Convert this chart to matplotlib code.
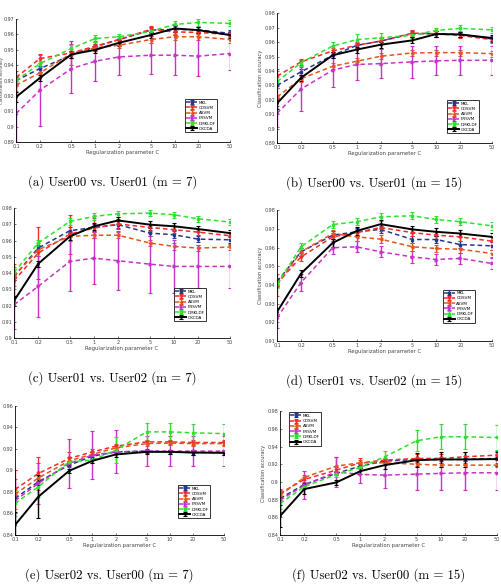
import numpy as np
import matplotlib
matplotlib.use("Agg")
import matplotlib.pyplot as plt
from matplotlib.ticker import FixedLocator, FuncFormatter

# regularization parameter C (x axis, log scale)
C_values = [0.1, 0.2, 0.5, 1, 2, 5, 10, 20, 50]
C_labels = ["0.1", "0.2", "0.5", "1", "2", "5", "10", "20", "50"]
methods = ["MKL", "CDSVM", "ASVM", "FRSVM", "DMKLDF", "OKCDA"]

# (a) User00 vs. User01 (m = 7)
a_mkl = [0.930, 0.9378, 0.9465, 0.952, 0.9567, 0.9628, 0.9633, 0.963, 0.9607]
a_cdsvm = [0.932, 0.9443, 0.948, 0.9524, 0.9567, 0.9633, 0.9617, 0.9613, 0.960]
a_asvm = [0.927, 0.935, 0.9476, 0.9513, 0.953, 0.9567, 0.9585, 0.9585, 0.9567]
a_frsvm = [0.9085, 0.9237, 0.9378, 0.9426, 0.9454, 0.9465, 0.9465, 0.9459, 0.9476]
a_dmkldf = [0.930, 0.941, 0.9509, 0.9574, 0.9585, 0.962, 0.9665, 0.9678, 0.9672]
a_okcda = [0.9193, 0.9317, 0.947, 0.950, 0.9546, 0.9596, 0.9639, 0.9628, 0.9596]
a_mkl_err = [0.002, 0.002, 0.002, 0.002, 0.002, 0.002, 0.002, 0.002, 0.002]
a_cdsvm_err = [0.004, 0.003, 0.008, 0.003, 0.002, 0.002, 0.002, 0.002, 0.002]
a_asvm_err = [0.004, 0.003, 0.003, 0.002, 0.002, 0.002, 0.002, 0.002, 0.002]
a_frsvm_err = [0.019, 0.023, 0.016, 0.013, 0.012, 0.0125, 0.013, 0.013, 0.0105]
a_dmkldf_err = [0.003, 0.002, 0.002, 0.002, 0.002, 0.002, 0.002, 0.002, 0.002]
a_okcda_err = [0.003, 0.002, 0.002, 0.002, 0.002, 0.002, 0.002, 0.002, 0.002]

# (b) User00 vs. User01 (m = 15)
b_mkl = [0.930, 0.9394, 0.9509, 0.9577, 0.9607, 0.9658, 0.9658, 0.9653, 0.9622]
b_cdsvm = [0.9364, 0.9463, 0.9539, 0.9578, 0.9607, 0.9662, 0.9658, 0.9646, 0.9617]
b_asvm = [0.922, 0.9347, 0.9433, 0.9467, 0.9502, 0.9525, 0.9527, 0.9527, 0.952]
b_frsvm = [0.9107, 0.9275, 0.9406, 0.9445, 0.9451, 0.9463, 0.947, 0.9474, 0.9474]
b_dmkldf = [0.9325, 0.9458, 0.9573, 0.9617, 0.963, 0.9647, 0.9681, 0.9695, 0.9685]
b_okcda = [0.9176, 0.9353, 0.9509, 0.9548, 0.9582, 0.9612, 0.9656, 0.9653, 0.9628]
b_mkl_err = [0.002, 0.002, 0.002, 0.002, 0.002, 0.002, 0.002, 0.002, 0.002]
b_cdsvm_err = [0.005, 0.002, 0.002, 0.002, 0.002, 0.002, 0.002, 0.002, 0.002]
b_asvm_err = [0.006, 0.002, 0.002, 0.002, 0.002, 0.002, 0.002, 0.002, 0.002]
b_frsvm_err = [0.0097, 0.015, 0.012, 0.011, 0.010, 0.011, 0.010, 0.010, 0.010]
b_dmkldf_err = [0.003, 0.002, 0.003, 0.004, 0.003, 0.002, 0.002, 0.002, 0.002]
b_okcda_err = [0.004, 0.002, 0.002, 0.002, 0.002, 0.002, 0.002, 0.002, 0.002]

# (c) User01 vs. User02 (m = 7)
c_mkl = [0.938, 0.9554, 0.9661, 0.9681, 0.9698, 0.9646, 0.9636, 0.9609, 0.9605]
c_cdsvm = [0.9353, 0.9523, 0.964, 0.9677, 0.9702, 0.9681, 0.9667, 0.9652, 0.963]
c_asvm = [0.938, 0.9544, 0.9626, 0.9633, 0.9633, 0.9585, 0.9564, 0.9554, 0.956]
c_frsvm = [0.9205, 0.9318, 0.9472, 0.9492, 0.9476, 0.9455, 0.9441, 0.9441, 0.9441]
c_dmkldf = [0.9404, 0.9585, 0.9718, 0.9749, 0.9765, 0.9769, 0.9759, 0.9734, 0.9714]
c_okcda = [0.923, 0.9457, 0.9626, 0.9688, 0.9724, 0.9698, 0.9688, 0.9671, 0.9646]
c_mkl_err = [0.002, 0.002, 0.002, 0.002, 0.002, 0.002, 0.002, 0.002, 0.002]
c_cdsvm_err = [0.010, 0.016, 0.012, 0.006, 0.003, 0.002, 0.002, 0.002, 0.002]
c_asvm_err = [0.006, 0.004, 0.003, 0.002, 0.002, 0.002, 0.002, 0.002, 0.002]
c_frsvm_err = [0.015, 0.019, 0.018, 0.016, 0.018, 0.0175, 0.0165, 0.013, 0.013]
c_dmkldf_err = [0.002, 0.002, 0.002, 0.002, 0.002, 0.002, 0.002, 0.002, 0.002]
c_okcda_err = [0.003, 0.002, 0.002, 0.002, 0.002, 0.002, 0.002, 0.002, 0.002]

# (d) User01 vs. User02 (m = 15)
d_mkl = [0.9417, 0.9577, 0.9666, 0.9684, 0.9697, 0.9643, 0.9643, 0.9616, 0.9609]
d_cdsvm = [0.9408, 0.955, 0.9657, 0.968, 0.9707, 0.968, 0.9666, 0.9657, 0.9634]
d_asvm = [0.940, 0.9577, 0.9675, 0.9657, 0.9645, 0.9604, 0.9595, 0.9591, 0.9568]
d_frsvm = [0.9224, 0.9413, 0.9599, 0.9604, 0.9577, 0.955, 0.9536, 0.9542, 0.9515]
d_dmkldf = [0.9404, 0.9604, 0.9723, 0.9738, 0.9764, 0.977, 0.975, 0.9738, 0.9716]
d_okcda = [0.9256, 0.9461, 0.9625, 0.9689, 0.9725, 0.9697, 0.9684, 0.9675, 0.9657]
d_mkl_err = [0.002, 0.002, 0.002, 0.002, 0.002, 0.002, 0.002, 0.002, 0.002]
d_cdsvm_err = [0.002, 0.002, 0.002, 0.002, 0.002, 0.002, 0.002, 0.002, 0.002]
d_asvm_err = [0.006, 0.002, 0.002, 0.002, 0.002, 0.002, 0.002, 0.002, 0.002]
d_frsvm_err = [0.0053, 0.0045, 0.0035, 0.003, 0.003, 0.003, 0.003, 0.003, 0.003]
d_dmkldf_err = [0.002, 0.002, 0.002, 0.002, 0.002, 0.002, 0.002, 0.002, 0.002]
d_okcda_err = [0.002, 0.002, 0.002, 0.002, 0.002, 0.002, 0.002, 0.002, 0.002]

# (e) User02 vs. User00 (m = 7)
e_mkl = [0.874, 0.8895, 0.905, 0.9133, 0.9173, 0.918, 0.9173, 0.9167, 0.9167]
e_cdsvm = [0.8824, 0.8972, 0.9112, 0.9173, 0.9226, 0.9266, 0.9266, 0.926, 0.926]
e_asvm = [0.878, 0.893, 0.909, 0.915, 0.921, 0.925, 0.9255, 0.925, 0.925]
e_frsvm = [0.8719, 0.888, 0.9065, 0.9143, 0.9173, 0.918, 0.918, 0.918, 0.918]
e_dmkldf = [0.8694, 0.8849, 0.9081, 0.9096, 0.9189, 0.9359, 0.9359, 0.935, 0.9343]
e_okcda = [0.8493, 0.8756, 0.8997, 0.909, 0.9149, 0.9173, 0.9173, 0.9167, 0.9164]
e_mkl_err = [0.003, 0.003, 0.002, 0.002, 0.002, 0.002, 0.002, 0.002, 0.002]
e_cdsvm_err = [0.018, 0.015, 0.006, 0.003, 0.002, 0.002, 0.002, 0.002, 0.002]
e_asvm_err = [0.004, 0.003, 0.003, 0.002, 0.002, 0.002, 0.002, 0.002, 0.002]
e_frsvm_err = [0.020, 0.019, 0.023, 0.022, 0.020, 0.014, 0.014, 0.014, 0.014]
e_dmkldf_err = [0.012, 0.010, 0.004, 0.003, 0.012, 0.008, 0.0085, 0.0085, 0.0085]
e_okcda_err = [0.012, 0.020, 0.002, 0.002, 0.002, 0.002, 0.002, 0.002, 0.002]

# (f) User02 vs. User00 (m = 15)
f_mkl = [0.8813, 0.8971, 0.9096, 0.9179, 0.9235, 0.9254, 0.9254, 0.9254, 0.9265]
f_cdsvm = [0.887, 0.9028, 0.9133, 0.9216, 0.9246, 0.9265, 0.9265, 0.9284, 0.9303]
f_asvm = [0.8851, 0.905, 0.9179, 0.9216, 0.9216, 0.920, 0.919, 0.919, 0.919]
f_frsvm = [0.8794, 0.8963, 0.9114, 0.9084, 0.9077, 0.9088, 0.9096, 0.9103, 0.9103]
f_dmkldf = [0.8757, 0.8945, 0.9084, 0.9164, 0.9284, 0.9465, 0.951, 0.951, 0.9502]
f_okcda = [0.8614, 0.8919, 0.8994, 0.9122, 0.919, 0.9246, 0.9254, 0.9254, 0.9258]
f_mkl_err = [0.003, 0.002, 0.002, 0.002, 0.002, 0.002, 0.002, 0.002, 0.002]
f_cdsvm_err = [0.004, 0.003, 0.004, 0.005, 0.002, 0.005, 0.005, 0.005, 0.005]
f_asvm_err = [0.003, 0.003, 0.010, 0.003, 0.002, 0.002, 0.002, 0.002, 0.002]
f_frsvm_err = [0.013, 0.016, 0.017, 0.010, 0.015, 0.0175, 0.019, 0.019, 0.019]
f_dmkldf_err = [0.006, 0.003, 0.003, 0.002, 0.006, 0.012, 0.014, 0.014, 0.014]
f_okcda_err = [0.012, 0.006, 0.003, 0.003, 0.004, 0.008, 0.008, 0.008, 0.008]

colors = ["#27358a", "#f52a2a", "#e0561e", "#c832c8", "#2fe02f", "black"]
markers = ["s", "v", "<", ">", "s", "+"]


def draw_panel(ax, series, errors, ylim, ystep, caption, leg_loc, leg_anchor, ylabel):
    x = np.array(C_values)
    for k in range(6):
        ls = "-" if k == 5 else (0, (3, 2))
        lw = 1.4 if k == 5 else 1.1
        ax.errorbar(x, series[k], yerr=errors[k], color=colors[k], linestyle=ls,
                    linewidth=lw, marker=markers[k], markersize=2.0,
                    elinewidth=1.0, capsize=1.2, capthick=0.8, label=methods[k])
    ax.set_xscale("log")
    ax.set_xlim(0.1, 50)
    ax.set_ylim(ylim)
    ax.xaxis.set_major_locator(FixedLocator(C_values))
    ax.xaxis.set_minor_locator(FixedLocator([]))
    ax.set_xticklabels(C_labels)
    ax.set_yticks(np.arange(ylim[0], ylim[1] + 1e-9, ystep))
    ax.yaxis.set_major_formatter(FuncFormatter(lambda v, p: "%g" % round(v, 2)))
    ax.tick_params(labelsize=3.5, direction="in", length=1.5, width=0.5,
                   colors="#444444", pad=1.2)
    for s in ["top", "right"]:
        ax.spines[s].set_visible(False)
    for s in ["left", "bottom"]:
        ax.spines[s].set_linewidth(0.6)
    ax.set_xlabel("Regularization parameter C", fontsize=3.8, labelpad=0.8, color="#444444")
    if ylabel:
        ax.set_ylabel("Classification accuracy", fontsize=3.6, labelpad=1.2, color="#444444")
    leg = ax.legend(loc=leg_loc, bbox_to_anchor=leg_anchor, fontsize=3.0, frameon=True,
                    fancybox=False, edgecolor="black", handlelength=2.6, borderpad=0.35,
                    labelspacing=0.3, handletextpad=0.35, markerscale=0.8, borderaxespad=0)
    leg.get_frame().set_linewidth(0.7)
    bb = ax.get_position()
    fig.text(bb.x0 + bb.width / 2 - 0.02, bb.y0 - 0.057, caption, ha="center", va="top",
             fontsize=9.2, family="cmr10")


fig = plt.figure(figsize=(5.01, 5.87), dpi=100)

panels = [
    ([0.032, 0.758, 0.427, 0.2095], [a_mkl, a_cdsvm, a_asvm, a_frsvm, a_dmkldf, a_okcda],
     [a_mkl_err, a_cdsvm_err, a_asvm_err, a_frsvm_err, a_dmkldf_err, a_okcda_err],
     (0.89, 0.97), 0.01, "(a) User00 vs. User01 (m = 7)", "lower left", (0.79, 0.08), True),
    ([0.553, 0.756, 0.429, 0.2215], [b_mkl, b_cdsvm, b_asvm, b_frsvm, b_dmkldf, b_okcda],
     [b_mkl_err, b_cdsvm_err, b_asvm_err, b_frsvm_err, b_dmkldf_err, b_okcda_err],
     (0.89, 0.98), 0.01, "(b) User00 vs. User01 (m = 15)", "lower left", (0.79, 0.077), True),
    ([0.028, 0.424, 0.431, 0.2215], [c_mkl, c_cdsvm, c_asvm, c_frsvm, c_dmkldf, c_okcda],
     [c_mkl_err, c_cdsvm_err, c_asvm_err, c_frsvm_err, c_dmkldf_err, c_okcda_err],
     (0.90, 0.98), 0.01, "(c) User01 vs. User02 (m = 7)", "lower left", (0.74, 0.13), False),
    ([0.553, 0.419, 0.429, 0.223], [d_mkl, d_cdsvm, d_asvm, d_frsvm, d_dmkldf, d_okcda],
     [d_mkl_err, d_cdsvm_err, d_asvm_err, d_frsvm_err, d_dmkldf_err, d_okcda_err],
     (0.91, 0.98), 0.01, "(d) User01 vs. User02 (m = 15)", "lower left", (0.77, 0.14), True),
    ([0.030, 0.0886, 0.417, 0.2198], [e_mkl, e_cdsvm, e_asvm, e_frsvm, e_dmkldf, e_okcda],
     [e_mkl_err, e_cdsvm_err, e_asvm_err, e_frsvm_err, e_dmkldf_err, e_okcda_err],
     (0.84, 0.96), 0.02, "(e) User02 vs. User00 (m = 7)", "lower left", (0.78, 0.13), False),
    ([0.559, 0.0886, 0.433, 0.211], [f_mkl, f_cdsvm, f_asvm, f_frsvm, f_dmkldf, f_okcda],
     [f_mkl_err, f_cdsvm_err, f_asvm_err, f_frsvm_err, f_dmkldf_err, f_okcda_err],
     (0.84, 0.98), 0.02, "(f) User02 vs. User00 (m = 15)", "upper left", (0.04, 0.99), True),
]

axes = []
for rect, series, errors, ylim, ystep, caption, loc, anchor, ylab in panels:
    ax = fig.add_axes(rect)
    draw_panel(ax, series, errors, ylim, ystep, caption, loc, anchor, ylab)
    axes.append(ax)

# the first panel's y label sits right at the figure edge
axes[0].yaxis.label.set_fontsize(3.0)
axes[0].yaxis.set_label_coords(-0.058, 0.5)

fig.savefig("out.png", dpi=100)
